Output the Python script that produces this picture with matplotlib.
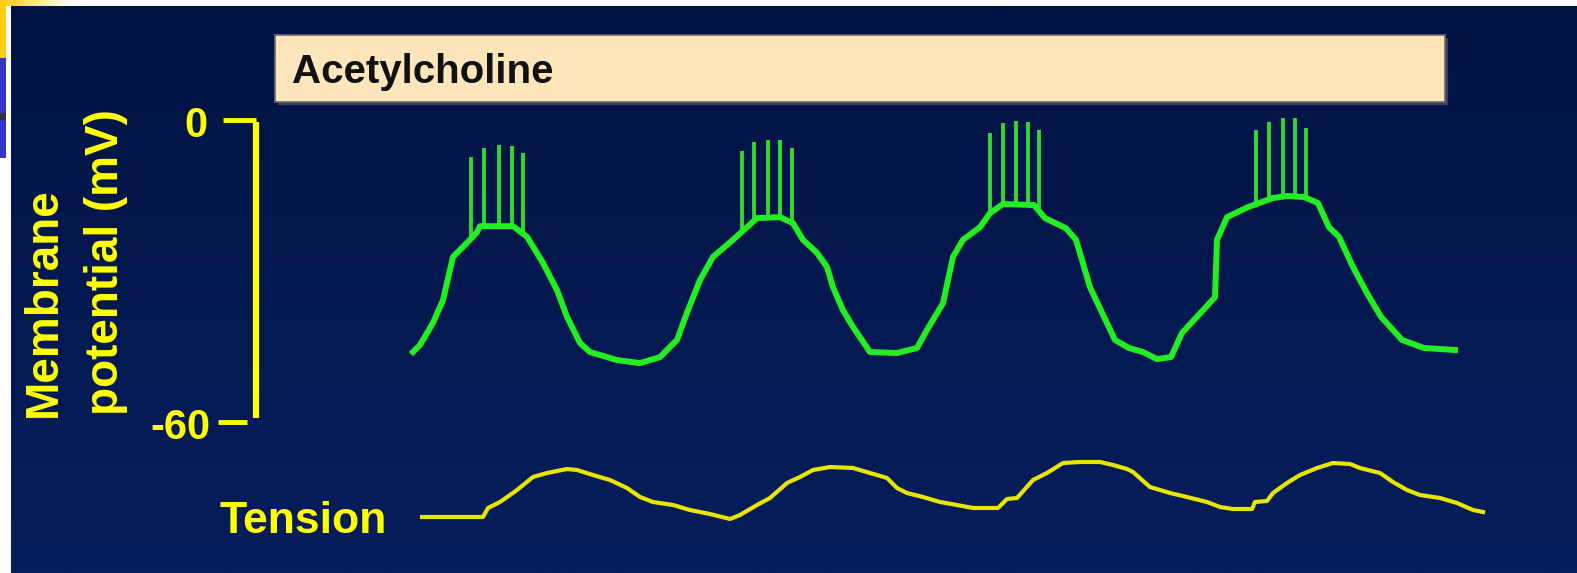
import numpy as np
import matplotlib.pyplot as plt
from matplotlib.patches import Rectangle
from matplotlib.colors import LinearSegmentedColormap

# membrane potential trace: time (arbitrary units) and potential (mV)
vm_time = [0, 7, 20, 30, 40, 54, 64, 67, 100, 114, 130, 144, 154, 167, 177, 204, 227, 247,
           264, 274, 287, 300, 320, 344, 367, 380, 390, 404, 414, 420, 430, 440, 457, 484,
           504, 514, 530, 540, 550, 567, 577, 590, 621, 632, 653, 663, 677, 691, 702, 716,
           730, 744, 758, 769, 790, 802, 804, 814, 835, 860, 874, 891, 905, 916, 926, 940,
           954, 968, 989, 1011, 1042]
vm_mv = [-46.1, -44.7, -40.3, -35.8, -27.2, -24.4, -22.3, -21.1, -21.1, -23.2, -28.4, -33.8,
         -39.1, -44.3, -46.1, -47.7, -48.3, -47.1, -43.7, -38.3, -31.8, -27.2, -23.8, -19.5,
         -19.3, -20.5, -23.8, -26.4, -29.2, -33.2, -37.8, -41.1, -46.1, -46.3, -45.3, -41.7,
         -36.4, -27.2, -23.8, -21.3, -18.5, -16.7, -16.9, -19.5, -21.5, -23.8, -33.2, -39.1,
         -43.7, -45.3, -46.1, -47.5, -47.1, -42.3, -37.8, -35.2, -23.8, -19.3, -17.3, -15.5,
         -15.1, -15.3, -16.5, -21.3, -23.2, -29.2, -34.4, -39.1, -43.7, -45.3, -45.7]

# action potential spikes riding on the slow-wave plateaus
spike_time = [58, 71, 86, 99, 110,
              329, 341, 355, 367, 379,
              577, 590, 603, 615, 626,
              843, 856, 870, 882, 893]
spike_peak = [-7.4, -5.6, -5.0, -5.2, -6.6,
              -6.2, -4.4, -4.0, -4.0, -5.6,
              -2.6, -0.6, -0.2, -0.4, -2.0,
              -2.0, -0.4, 0.4, 0.4, -1.6]

# tension trace (arbitrary units)
tension_time = [9, 70, 75, 87, 104, 120, 134, 154, 164, 180, 197, 214, 227, 240, 260, 277,
                297, 317, 327, 344, 357, 374, 387, 400, 417, 440, 457, 474, 484, 494, 510,
                527, 544, 560, 585, 594, 604, 620, 634, 650, 667, 687, 700, 714, 720, 737,
                757, 774, 794, 807, 820, 839, 842, 854, 860, 874, 887, 904, 920, 937, 947,
                967, 980, 994, 1007, 1027, 1044, 1060, 1070]
tension = [0.0, 0.0, 0.9, 1.5, 2.7, 4.0, 4.4, 4.8, 4.7, 4.2, 3.7, 2.9, 2.0, 1.5, 1.2, 0.7,
           0.3, -0.2, 0.2, 1.2, 1.9, 3.4, 4.0, 4.7, 5.0, 4.9, 4.4, 3.9, 2.9, 2.4, 2.0,
           1.5, 1.2, 0.9, 0.9, 1.8, 1.9, 3.7, 4.4, 5.4, 5.5, 5.5, 5.2, 4.8, 4.5, 3.0,
           2.4, 2.0, 1.5, 1.0, 0.8, 0.8, 1.5, 1.6, 2.4, 3.4, 4.2, 4.9, 5.4, 5.3, 4.9,
           4.4, 3.5, 2.7, 2.2, 1.9, 1.4, 0.7, 0.5]

scale_ticks = [0, -60]
scale_labels = ['0', '-60']

W, H = 1577, 573
fig = plt.figure(figsize=(W / 100, H / 100), dpi=100, facecolor='white')
font = 'Liberation Sans'
yellow = '#ffff00'

# dark blue slide background
bg = fig.add_axes([11 / W, 0, (W - 11) / W, (H - 6) / H])
grad = np.linspace(0, 1, 256).reshape(-1, 1)
bg_cmap = LinearSegmentedColormap.from_list('bg', ['#011343', '#071e5c'])
bg.imshow(grad, cmap=bg_cmap, aspect='auto', extent=[0, 1, 0, 1], origin='upper')
bg.axis('off')

# bits of the neighbouring slide at the top-left corner
def px_rect(x0, y0, x1, y1, color):
    fig.add_artist(Rectangle((x0 / W, 1 - y1 / H), (x1 - x0) / W, (y1 - y0) / H,
                             transform=fig.transFigure, color=color, lw=0))

px_rect(0, 0, 6, 58, '#ffcc11')
px_rect(0, 58, 6, 113, '#3535cc')
px_rect(0, 113, 6, 120, '#333333')
px_rect(0, 120, 6, 158, '#3535cc')
top = fig.add_axes([0, 1 - 6 / H, 70 / W, 6 / H])
top.imshow(np.linspace(0, 1, 64).reshape(1, -1), aspect='auto',
           cmap=LinearSegmentedColormap.from_list('t', ['#ffcc11', '#ffffff']))
top.axis('off')

# membrane potential axes (mV)
ax = fig.add_axes([0, 0, 1, 1])
ax.patch.set_alpha(0)
ax.set_xlim(-413, W - 413)
ax.set_ylim(-(H - 120) / 5.033, 120 / 5.033)
ax.axis('off')

ax.plot(vm_time, vm_mv, color='#22ee22', lw=4.3, solid_joinstyle='round', zorder=3)
spike_base = np.interp(spike_time, vm_time, vm_mv)
ax.vlines(spike_time, spike_base, spike_peak, color='#30d830', lw=2.8, zorder=2)

# 0 / -60 mV scale bracket
ax.plot([-157, -157], [-0.4, -59.2], color=yellow, lw=4.5, solid_capstyle='butt')
ax.hlines(scale_ticks[0], -190, -157, color=yellow, lw=3.5)
ax.hlines(scale_ticks[1], -195, -166, color=yellow, lw=3.5)
ax.text(-205, scale_ticks[0] - 3.4, scale_labels[0], color=yellow, fontsize=30,
        family=font, weight='bold', ha='right', va='baseline')
ax.text(-203, scale_ticks[1] - 3.4, scale_labels[1], color=yellow, fontsize=30,
        family=font, weight='bold', ha='right', va='baseline')

# tension axes
ax2 = ax.twinx()
ax2.set_ylim(-(H - 517) / 10, 517 / 10)
ax2.axis('off')
ax2.plot(tension_time, tension, color='#e8e600', lw=3.0, zorder=3)

# labels and the acetylcholine bar, placed in pixel space
deco = fig.add_axes([0, 0, 1, 1])
deco.patch.set_alpha(0)
deco.set_xlim(0, W)
deco.set_ylim(H, 0)
deco.axis('off')

deco.add_patch(Rectangle((278, 38), 1170, 67, color='#3a3f55', lw=0))
deco.add_patch(Rectangle((275, 35), 1170, 67, facecolor='#fde5bc',
                         edgecolor='#6a6a70', lw=1.2))
deco.text(292, 83, 'Acetylcholine', fontsize=29, family=font, weight='bold',
          color='#111111', ha='left', va='baseline')

deco.text(44, 417, 'Membrane', fontsize=33, family=font, weight='bold', color=yellow,
          rotation=90, rotation_mode='anchor', ha='left', va='center')
deco.text(106, 415, 'potential (mV)', fontsize=33, family=font, weight='bold', color=yellow,
          rotation=90, rotation_mode='anchor', ha='left', va='center')
deco.text(219, 533, 'Tension', fontsize=32, family=font, weight='bold', color=yellow,
          ha='left', va='baseline')

fig.savefig('out.png', dpi=100, facecolor='white')
